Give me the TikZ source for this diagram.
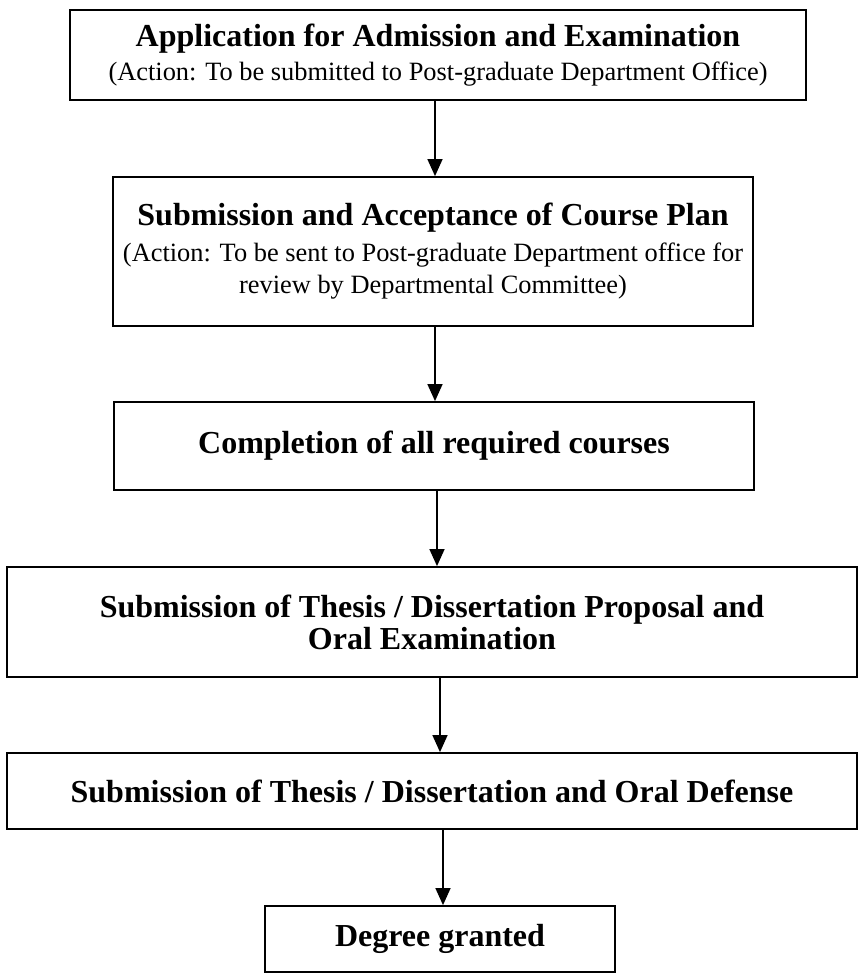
\documentclass[tikz,border=0pt]{standalone}
\usepackage{fontspec}
\setmainfont{Liberation Serif}
\usetikzlibrary{arrows.meta}
\newcommand{\stagetitle}[1]{{\fontsize{16}{19}\selectfont\bfseries #1}}
\begin{document}
\begin{tikzpicture}[x=0.5pt, y=-0.5pt,
    stagebox/.style={draw, line width=0.9pt, rectangle, align=center, inner sep=2pt, font=\fontsize{13.2}{16}\selectfont},
    flow/.style={-{Triangle[length=8.5pt, width=7.5pt]}, line width=0.7pt}]
  \useasboundingbox (0,0) rectangle (864,975);

  \node[stagebox, minimum width=368pt, minimum height=45pt] (apply) at (438,55)
    {\stagetitle{Application for Admission and Examination}\\[1pt]
     (Action: To be submitted to Post-graduate Department Office)};
  \node[stagebox, minimum width=320pt, minimum height=74.5pt] (plan) at (433,251.5)
    {\stagetitle{Submission and Acceptance of Course Plan}\\[2pt]
     (Action: To be sent to Post-graduate Department office for\\
     review by Departmental Committee)};
  \node[stagebox, minimum width=320pt, minimum height=44pt] (courses) at (434,446)
    {\stagetitle{Completion of all required courses}};
  \node[stagebox, minimum width=425pt, minimum height=55pt] (proposal) at (432,622)
    {\stagetitle{Submission of Thesis / Dissertation Proposal and}\\
     \stagetitle{Oral Examination}};
  \node[stagebox, minimum width=425pt, minimum height=38pt] (defense) at (432,791)
    {\stagetitle{Submission of Thesis / Dissertation and Oral Defense}};
  \node[stagebox, minimum width=175pt, minimum height=33pt] (degree) at (440,939)
    {\stagetitle{Degree granted}};

  \draw[flow] (apply.south) ++(-3,0) coordinate (p1) -- (p1 |- plan.north);
  \draw[flow] (plan.south) ++(2,0) coordinate (p2) -- (p2 |- courses.north);
  \draw[flow] (courses.south) ++(3,0) coordinate (p3) -- (p3 |- proposal.north);
  \draw[flow] (proposal.south) ++(8,0) coordinate (p4) -- (p4 |- defense.north);
  \draw[flow] (defense.south) ++(11,0) coordinate (p5) -- (p5 |- degree.north);
\end{tikzpicture}
\end{document}
